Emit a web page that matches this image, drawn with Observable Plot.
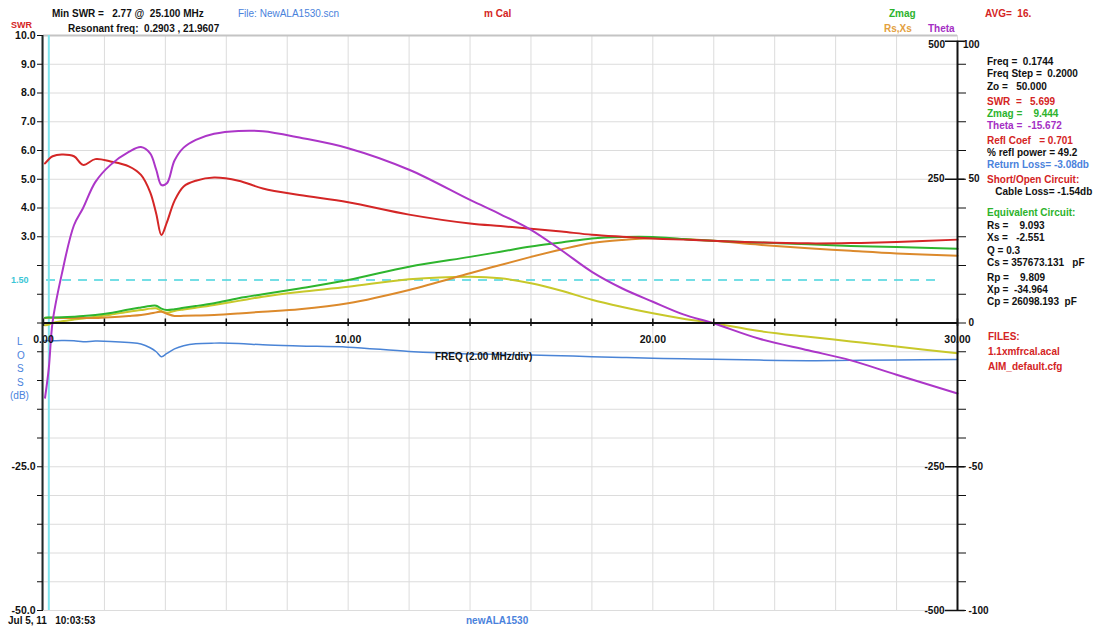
<!DOCTYPE html>
<html>
<head>
<meta charset="utf-8">
<script src="https://cdn.jsdelivr.net/npm/d3@7"></script>
<script src="https://cdn.jsdelivr.net/npm/@observablehq/plot@0.6"></script>
<style>
  body { margin: 0; background: #fff; }
  #wrap { position: relative; width: 1104px; height: 630px; overflow: hidden;
          font-family: "Liberation Sans", Arial, sans-serif; font-weight: bold; font-size: 10px; color: #111; }
  #wrap svg { position: absolute; left: 0; top: 0; }
  .t { position: absolute; white-space: pre; line-height: 10px; }
  .r { text-align: right; }
  .red { color: #d42424; }
  .grn { color: #2cb32c; }
  .pur { color: #a52fc4; }
  .blu { color: #4a82dc; }
  .org { color: #e3a040; }
</style>
</head>
<body>
<div id="wrap">
  <!-- header -->
  <div class="t red" style="left:11px;top:20px;font-size:9px;">SWR</div>
  <div class="t" style="left:52px;top:9px;">Min SWR =   2.77 @  25.100 MHz</div>
  <div class="t" style="left:68px;top:24px;">Resonant freq:  0.2903 , 21.9607</div>
  <div class="t blu" style="left:238px;top:9px;font-weight:normal;">File: NewALA1530.scn</div>
  <div class="t red" style="left:484px;top:9px;">m Cal</div>
  <div class="t grn" style="left:889px;top:9px;">Zmag</div>
  <div class="t red" style="left:985px;top:9px;">AVG=  16.</div>
  <div class="t org" style="left:884px;top:24px;">Rs,Xs</div>
  <div class="t pur" style="left:928px;top:24px;">Theta</div>
  <div class="t r" style="left:905px;width:40px;top:40px;">500</div>
  <div class="t" style="left:963px;top:40px;">100</div>

  <!-- cursor readout panel -->
  <div class="t" style="left:987px;top:57px;">Freq =  0.1744</div>
  <div class="t" style="left:987px;top:69px;">Freq Step =  0.2000</div>
  <div class="t" style="left:987px;top:82px;">Zo =   50.000</div>
  <div class="t red" style="left:987px;top:97px;">SWR  =   5.699</div>
  <div class="t grn" style="left:987px;top:109px;">Zmag =    9.444</div>
  <div class="t pur" style="left:987px;top:121px;">Theta =  -15.672</div>
  <div class="t red" style="left:987px;top:136px;">Refl Coef   = 0.701</div>
  <div class="t" style="left:987px;top:148px;">% refl power = 49.2</div>
  <div class="t blu" style="left:987px;top:160px;">Return Loss= -3.08db</div>
  <div class="t red" style="left:987px;top:175px;">Short/Open Circuit:</div>
  <div class="t" style="left:987px;top:187px;">   Cable Loss= -1.54db</div>
  <div class="t grn" style="left:987px;top:208px;">Equivalent Circuit:</div>
  <div class="t" style="left:987px;top:221px;">Rs =    9.093</div>
  <div class="t" style="left:987px;top:233px;">Xs =   -2.551</div>
  <div class="t" style="left:987px;top:246px;">Q = 0.3</div>
  <div class="t" style="left:987px;top:258px;">Cs = 357673.131   pF</div>
  <div class="t" style="left:987px;top:273px;">Rp =    9.809</div>
  <div class="t" style="left:987px;top:285px;">Xp =  -34.964</div>
  <div class="t" style="left:987px;top:297px;">Cp = 26098.193  pF</div>
  <div class="t red" style="left:988px;top:332px;">FILES:</div>
  <div class="t red" style="left:988px;top:347px;">1.1xmfrcal.acal</div>
  <div class="t red" style="left:988px;top:362px;">AIM_default.cfg</div>

  <!-- loss axis title -->
  <div class="t blu" style="left:17px;top:337px;font-weight:normal;">L</div>
  <div class="t blu" style="left:17px;top:351px;font-weight:normal;">O</div>
  <div class="t blu" style="left:17px;top:364px;font-weight:normal;">S</div>
  <div class="t blu" style="left:17px;top:378px;font-weight:normal;">S</div>
  <div class="t blu" style="left:10px;top:391px;font-weight:normal;">(dB)</div>

  <div class="t" style="left:435px;top:352px;">FREQ (2.00 MHz/div)</div>

  <!-- footer -->
  <div class="t" style="left:8px;top:616px;">Jul 5, 11   10:03:53</div>
  <div class="t blu" style="left:466px;top:616px;">newALA1530</div>
</div>

<script>
// Antenna analyzer sweep, 0 - 30 MHz
const freq  = [0.05, 0.1744, 0.3, 0.6, 1.0, 1.3, 1.7, 2.2, 2.8, 3.2, 3.5, 3.7, 3.87, 4.05, 4.3, 4.6, 5.0, 5.6, 6.4, 7.2, 8.4, 10, 12, 14, 15, 16, 17, 18, 19, 20, 21, 21.96, 23.5, 25.1, 26.5, 28, 30];
const swr   = [5.55, 5.699, 5.8, 5.86, 5.8, 5.5, 5.7, 5.62, 5.45, 5.15, 4.55, 3.8, 3.06, 3.5, 4.25, 4.75, 4.95, 5.06, 4.95, 4.68, 4.45, 4.2, 3.77, 3.46, 3.37, 3.28, 3.18, 3.07, 3.0, 2.94, 2.9, 2.86, 2.8, 2.77, 2.78, 2.82, 2.9];
const zmag  = [9.2, 9.444, 9.6, 10, 11, 12, 14, 17.5, 23.5, 27, 29.5, 30, 25, 22.6, 24, 26.5, 29.5, 34.5, 43, 50, 60, 74.8, 98, 115, 124, 133, 140, 147, 149.5, 149.5, 146, 143, 140, 137, 134, 132, 129];
const rs    = [8.9, 9.093, 9.0, 8.8, 8.6, 8.6, 8.7, 10, 12.2, 14, 16.5, 18.5, 19.7, 16, 12.2, 12.5, 13, 13.9, 16.5, 19.7, 24, 34.3, 57.4, 86.5, 101, 115, 128, 139, 144.5, 147.4, 146, 143, 136, 130, 125.5, 121, 117];
const xs    = [-4, -2.551, 0.1, 3, 6, 8, 11, 14.5, 19.7, 22.5, 25, 25.6, 21, 18, 21, 23.5, 26.5, 31.3, 38.5, 45.8, 54, 63, 76, 80.6, 77.8, 69, 56, 40.5, 28, 16.9, 7.5, 0, -14, -24, -32, -41, -52.7];
const theta = [-26, -15.672, 0.5, 17, 34, 40, 49, 55, 59.5, 61.2, 59, 53.3, 48, 48.6, 56.5, 61, 63.7, 65.8, 66.8, 66.7, 64.5, 60.8, 53.3, 42.8, 37.8, 32.4, 25.3, 17.8, 12, 7.4, 3, 0, -5.5, -9.5, -13, -18, -24.5];
const loss  = [-3.05, -3.08, -3.08, -3.05, -3.08, -3.25, -3.15, -3.2, -3.4, -3.65, -4.3, -5.0, -5.85, -5.3, -4.5, -3.95, -3.6, -3.5, -3.55, -3.8, -4.0, -4.2, -4.95, -5.38, -5.47, -5.56, -5.7, -5.85, -6.0, -6.13, -6.22, -6.3, -6.45, -6.55, -6.5, -6.45, -6.35];

const cursorFreq = 0.1744;
const swrMarker = 1.5;
const freqLabels = [0, 10, 20, 30];

// One vertical grid unit = 1 SWR = 50 ohm = 10 degrees = 5 dB
const OHM_PER_DIV = 50, DEG_PER_DIV = 10, DB_PER_DIV = 5;

const rows = freq.map((f, i) => ({
  f,
  swr: swr[i],
  zmag: zmag[i] / OHM_PER_DIV,
  rs: rs[i] / OHM_PER_DIV,
  xs: xs[i] / OHM_PER_DIV,
  theta: theta[i] / DEG_PER_DIV,
  loss: loss[i] / DB_PER_DIV
}));

const line = (key, stroke, w = 2) =>
  Plot.line(rows, {x: "f", y: key, stroke, strokeWidth: w, curve: "catmull-rom"});

const ohmLabels = [5, -5, -10];

const chart = Plot.plot({
  width: 1104,
  height: 630,
  marginLeft: 43,
  marginRight: 147,
  marginTop: 35,
  marginBottom: 20,
  style: {fontFamily: "'Liberation Sans', Arial, sans-serif", fontSize: "10px", fontWeight: "bold", background: "transparent", color: "#111"},
  x: {domain: [0, 30], axis: null},
  y: {domain: [-10, 10], axis: null},
  marks: [
    Plot.gridX({ticks: d3.range(0, 31, 2), stroke: "#dcdcdc", strokeOpacity: 1}),
    Plot.gridY({ticks: d3.range(-10, 10, 1), stroke: "#dcdcdc", strokeOpacity: 1}),
    Plot.ruleY([10], {stroke: "#c4c4c4", strokeWidth: 2}),

    // SWR 1.5 reference
    Plot.ruleY([swrMarker], {x1: 0.1, x2: 29.5, stroke: "#46d3dd", strokeWidth: 1.5, strokeDasharray: "9,7"}),
    Plot.text([swrMarker], {y: d => d, frameAnchor: "left", dx: -15, textAnchor: "end", text: d => d.toFixed(2), fill: "#3cc6d6", fontSize: 9}),

    // cursor
    Plot.ruleX([cursorFreq], {stroke: "#7fe6ee", strokeWidth: 2}),

    // traces
    line("loss", "#4a84d6", 1.5),
    line("xs", "#c8c82a"),
    line("rs", "#dc8a2c"),
    line("zmag", "#2eb52e"),
    line("swr", "#d42626"),
    line("theta", "#ac36c8"),

    // frequency axis through zero
    Plot.ruleY([0], {stroke: "#111", strokeWidth: 2}),
    Plot.ruleX(d3.range(0, 31, 2), {y1: -0.12, y2: 0.14, stroke: "#111", strokeWidth: 1.5}),
    Plot.text(freqLabels, {x: d => d, y: 0, dy: 17, text: d => d.toFixed(2), fontSize: 10.5}),

    // left axis: SWR above, loss (dB) below
    Plot.ruleX([0], {stroke: "#1e2a2a", strokeWidth: 2, dx: -1}),
    Plot.axisY({
      anchor: "left",
      ticks: d3.range(-10, 10.01, 1),
      tickSize: 6,
      tickPadding: 2,
      fontSize: 10.5,
      tickFormat: v => v >= 3 ? v.toFixed(1) : (v === -5 || v === -10) ? (v * DB_PER_DIV).toFixed(1) : ""
    }),

    // right axis: ohms on the left side, theta on the right side
    Plot.ruleX([30], {y1: -10, y2: 9.8, stroke: "#111", strokeWidth: 2}),
    Plot.axisY({
      anchor: "right",
      ticks: d3.range(-10, 10, 1),
      tickSize: 8,
      tickPadding: 3,
      tickFormat: v => v % 5 === 0 ? String(v * DEG_PER_DIV) : ""
    }),
    Plot.ruleY([9.8, 5, -5, -10], {x1: 29.6, x2: 30.25, stroke: "#111", strokeWidth: 1.5}),
    Plot.text(ohmLabels, {y: d => d, frameAnchor: "right", dx: -13, textAnchor: "end", text: d => String(d * OHM_PER_DIV)})
  ]
});

document.getElementById("wrap").prepend(chart);
</script>
</body>
</html>
